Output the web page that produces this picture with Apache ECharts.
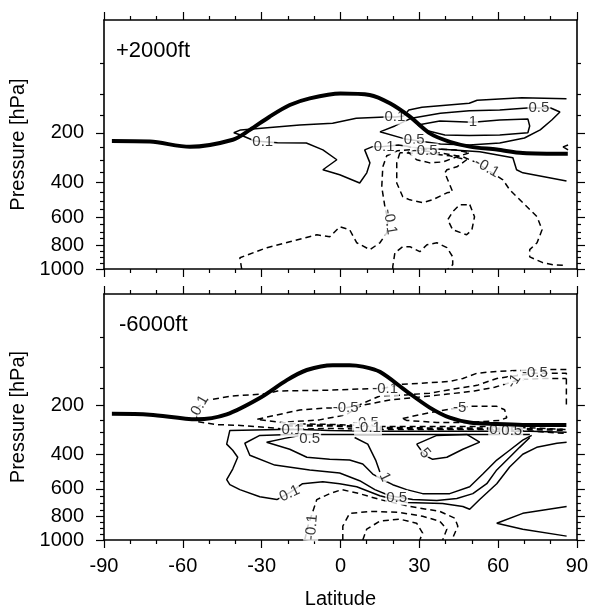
<!DOCTYPE html>
<html>
<head>
<meta charset="utf-8">
<title>Pressure-latitude contours</title>
<script src="https://cdn.jsdelivr.net/npm/echarts@6.0.0/dist/echarts.min.js"></script>
<style>
html, body { margin: 0; padding: 0; background: #fff; }
#chart { width: 591px; height: 610px; }
</style>
</head>
<body>
<div id="chart"></div>
<script>
// tick labels
var pMajor = [200, 400, 600, 800, 1000]
var pMinor = [50, 100, 150, 250, 300, 350, 450, 500, 550, 650, 700, 750, 850, 900, 950]
var panelTitles = ['+2000ft', '-6000ft']

// ---- top panel (+2000ft), points are [lat, hPa] ----
var topTrop = [[-87,227],[-72.5,229],[-57.3,248],[-41,223],[-34.5,191],[-27,153],[-19.3,124],[-11.7,109],[0,99],[11.1,102],[18.8,120],[26.4,153],[34,202],[41.6,230],[49.2,247],[59.5,258],[69.4,271],[86.5,274]]
var topPos01 = [[86,110],[69,108],[52,113],[49,120],[31,129],[26,136],[24,151],[21,154],[17,154],[6,157],[-3,171],[-15.5,176],[-38,191],[-40.6,200],[-38,207],[-32.6,227],[-24,233],[-13,234],[-6.7,259],[-1.4,298],[-6.7,341],[-0.3,364],[7.3,404],[10,355],[11.2,311],[9.2,259],[12,248],[15,248],[22,241],[30,252],[41.6,259],[53,266],[65.6,290],[67,341],[69.4,355],[86,394]]
var topPos05 = [[15,197],[20.7,179],[27,157],[38,144],[49,138],[60.6,136],[71,131],[80,131],[83.5,141],[80.4,162],[76,191],[70,217],[60.6,234],[49,241],[38,238],[30,227],[24.5,220],[15,197]]
var topPos1 = [[29.4,176],[37.8,165],[50.4,168],[60.6,162],[71.3,159],[72,179],[71.3,200],[60.6,207],[49,209],[39.7,207],[32,191],[29.4,176]]
var topPosEdge = [[86.6,241],[84.7,248],[86.6,259]]
var topNeg01 = [[-37.6,1000],[-38.3,902],[-28,819],[-19.3,773],[-9,721],[-4.1,736],[-0.3,664],[3.5,685],[6.2,781],[11.2,835],[15,781],[17.6,707],[18,617],[16.9,535],[15.7,424],[16.1,328],[17.6,282],[21.8,262],[26.4,259],[35,266],[46.6,286],[52,311],[55.7,341],[61.8,388],[64.4,439],[69.4,511],[74.8,597],[76.7,685],[74.8,781],[72,835],[72,894],[77,944],[81,962],[86,968]]
var topNegInner = [[22.6,270],[21.4,311],[21.4,404],[23.7,477],[26.4,494],[31.3,511],[35,494],[40.5,455],[42.7,450],[39.7,355],[40.5,341],[44.3,328],[48,298],[41.6,282],[34,274],[22.6,270]]
var topNeg05 = [[25.6,266],[29,298],[34,311],[39,307],[44.3,286],[49.2,270],[43.5,259],[34,255],[25.6,266]]
var topNegLoopA = [[49.2,522],[51,597],[50,685],[48,721],[42.7,685],[40.8,617],[42.7,565],[45.4,522],[49.2,522]]
var topNegLoopB = [[19.9,1000],[19.9,977],[20.7,860],[23.7,811],[26.4,811],[30.2,851],[32.9,796],[36.7,781],[40.5,819],[42.7,894],[42.7,962],[40.8,1000]]
// [text, lat, hPa, rotate]
var topLabels = [['0.1',-29.6,230,0],['0.1',20.7,154,0],['0.1',16.6,248,0],['0.5',28,224,0],['0.5',75.5,131,0],['1',50.4,168,0],['-0.5',32,263,0],['-0.1',18.8,630,-80],['-0.1',55.7,332,-30]]

// ---- bottom panel (-6000ft) ----
var botTrop = [[-87,228],[-72.6,231],[-54.7,248],[-43.3,230],[-30.7,177],[-20.4,129],[-12.8,106],[-2.9,96],[3.5,96],[8.5,99],[15,110],[25.2,158],[34,207],[41.6,242],[49.2,260],[59.5,266],[69.4,269],[86,269]]
var botNeg01 = [[86,105],[79.7,105],[68,107],[59.5,109],[52,113],[46.6,125],[41.6,132],[30,137],[23.7,139],[16,150],[13.8,150],[-5,155],[-24,157],[-28,165],[-41,171],[-50.5,183],[-54.7,208],[-54.7,256],[-47,268],[-38,271],[-28,279],[-19.3,287],[-4,283],[15,287],[34,287],[53,287],[68,291],[86,304]]
var botNeg05 = [[85.7,287],[68,279],[53,275],[34,275],[15,275],[-0.3,268],[-19.3,264],[-31.9,248],[-15.5,215],[-5.2,208],[2,208],[7.3,198],[15,171],[25,168],[34,163],[44.3,150],[52,142],[59.5,125],[65,120],[74,113],[80.4,113],[86,113],[86,150],[86,198]]
var botNeg1 = [[-20,258],[-8,250],[2,232],[8,200],[18.8,183],[30.2,174],[41.6,165],[51,157],[58.7,147],[62.5,139],[66,132],[70,127],[77.8,125],[86,125]]
var botNeg5 = [[23.7,245],[30.2,231],[37.8,218],[45.4,207],[49.2,203],[59.5,203],[62.5,214],[63.3,242],[60.6,252],[49,260],[36.7,260],[25.2,252],[23.7,245]]
var botNegBand = [[-20.4,271],[-4.1,271],[15,281],[34,283],[53,283],[68.2,285],[86.1,289]]
var botNegSfc1 = [[-13.6,1000],[-12.4,879],[-10.5,760],[-9,673],[-4.1,632],[0.5,605],[7.3,632],[15,673],[26.4,723],[37.8,760],[43.5,813],[44.7,879],[42.4,1000]]
var botNegSfc2 = [[0.9,1000],[0.9,879],[3.5,775],[12.3,760],[22.6,768],[31.3,798],[37.8,837],[40.5,904],[38.9,1000]]
var botNegSfc3 = [[8.5,1000],[10,904],[15,837],[22.6,821],[29,854],[31.3,938],[30.2,1000]]
var botPos01 = [[86.1,299],[72.1,295],[53,295],[34,295],[15,295],[-4.1,291],[-15.5,287],[-23.1,287],[-42.1,291],[-43.3,351],[-41,380],[-39.1,415],[-41,479],[-43.3,542],[-42.1,573],[-38.3,605],[-30.7,653],[-24.2,673],[-19.3,625],[-14.4,567],[-6.7,554],[-0.3,567],[6.2,586],[15,646],[25.2,694],[38.9,701],[46.6,723],[49.2,744],[53,673],[59.5,567],[64.4,468],[69.4,400],[74.7,366],[82.4,347],[86.1,342]]
var botPos05 = [[72.1,308],[53,308],[34,308],[15,308],[-4.1,308],[-19.3,308],[-30.7,312],[-36.4,347],[-34.5,405],[-25,457],[-11.7,484],[-0.3,502],[7.3,548],[13.1,605],[18.8,646],[27.5,673],[36.7,680],[44.3,666],[50.4,632],[55.7,567],[59.5,484],[64.4,415],[68.2,366],[72.1,321]]
var botPos1 = [[-15.5,312],[-21.2,325],[-28.1,342],[-19.3,375],[-12.8,415],[-4.1,426],[3.5,430],[8.5,451],[12.3,508],[16.1,542],[19.9,573],[25.2,605],[31.3,632],[41.6,632],[49.2,586],[54.2,508],[59.5,430],[64.4,380],[69.4,333],[72.8,312]]
var botPos1b = [[5.4,321],[10.4,351],[13.4,430],[15,496]]
var botPos5 = [[29,351],[36.7,312],[48.1,308],[53,342],[46.6,375],[40.5,415],[35.1,426],[32.1,405],[29,351]]
var botPosRight = [[86.1,723],[69.4,775],[59.5,854],[69.4,904],[86.1,965]]
var botLabels = [['0.1',-53.5,200,60],['-0.1',17,150,0],['-0.5',2,208,0],['-0.5',74,113,0],['-1',66,132,55],['-5',45.4,207,0],
  ['0.1',-18.5,287,0],['0.5',-11.7,325,0],['-0.5',9.7,262,0],['-0.1',10.5,281,0],['0.1',60.6,287,0],['0.5',65.2,293,0],
  ['5',32.1,395,-50],['1',16.9,525,-65],['0.5',21.4,660,0],['0.1',-19.3,632,25],['-0.1',-10.9,888,85]]

var K = 0.35
var P_TOP = 12
var FONT = '"Liberation Sans", Arial, Helvetica, sans-serif'
function f (p) { return Math.pow(p, K) }

function xAxes (g) {
  var base = {
    gridIndex: g, type: 'value', min: -90, max: 90, interval: 30,
    splitLine: { show: false },
    axisLine: { show: true, onZero: false, lineStyle: { color: '#000', width: 1.6 } },
    axisTick: { show: true, length: 8, lineStyle: { color: '#000', width: 1.2 } },
    minorTick: { show: true, splitNumber: 3, length: 4, lineStyle: { color: '#000', width: 1.2 } }
  }
  var bottom = Object.assign({}, base, { position: 'bottom' })
  if (g === 1) {
    bottom.axisLabel = { show: true, fontSize: 20, margin: 16, color: '#000', fontFamily: FONT }
    bottom.name = 'Latitude'
    bottom.nameLocation = 'middle'
    bottom.nameGap = 49
    bottom.nameTextStyle = { fontSize: 20, color: '#000', fontFamily: FONT }
  } else {
    bottom.axisLabel = { show: false }
  }
  var top = Object.assign({}, base, { position: 'top', axisLabel: { show: false } })
  return [bottom, top]
}

function yAxes (g) {
  var major = pMajor.map(f)
  var minor = pMinor.map(f)
  function ax (pos, vals, len, withLine, withLabel) {
    var a = {
      gridIndex: g, type: 'value', inverse: true, position: pos,
      min: f(P_TOP), max: f(1000),
      splitLine: { show: false },
      axisLine: { show: withLine, onZero: false, lineStyle: { color: '#000', width: 1.6 } },
      axisTick: { show: true, length: len, customValues: vals, lineStyle: { color: '#000', width: 1.2 } },
      axisLabel: { show: withLabel, customValues: vals, fontSize: 20, margin: 20, color: '#000', fontFamily: FONT,
        formatter: function (v) { return String(Math.round(Math.pow(v, 1 / K))) } }
    }
    if (withLabel) {
      a.name = 'Pressure [hPa]'
      a.nameLocation = 'middle'
      a.nameGap = 62
      a.nameTextStyle = { fontSize: 20, color: '#000', fontFamily: FONT }
    }
    return a
  }
  return [ax('left', major, 8, true, true), ax('left', minor, 4, false, false),
    ax('right', major, 8, true, false), ax('right', minor, 4, false, false)]
}

function contour (data, g, dashed, width) {
  return {
    type: 'line', xAxisIndex: g * 2, yAxisIndex: g * 4,
    data: data.map(function (d) { return [d[0], f(d[1])] }),
    symbol: 'none', silent: true, z: 2,
    lineStyle: { color: '#000', width: width || 1.5, type: dashed ? [6, 4] : 'solid' }
  }
}

function trop (data, g) {
  var s = contour(data, g, false, 4)
  s.smooth = 0.3
  s.z = 5
  return s
}

function labels (list, g) {
  return {
    type: 'scatter', xAxisIndex: g * 2, yAxisIndex: g * 4, symbolSize: 1, silent: true, z: 3,
    itemStyle: { color: 'rgba(0,0,0,0)' },
    data: list.map(function (l) {
      return { name: l[0], value: [l[1], f(l[2])], label: { rotate: l[3] } }
    }),
    label: { show: true, position: 'inside', formatter: '{b}', fontSize: 15, color: '#000',
      fontFamily: FONT, backgroundColor: '#fff', padding: [0, 1] }
  }
}

var series = [
  contour(topPos01, 0, false), contour(topPos05, 0, false), contour(topPos1, 0, false), contour(topPosEdge, 0, false),
  contour(topNeg01, 0, true), contour(topNegInner, 0, true), contour(topNeg05, 0, true),
  contour(topNegLoopA, 0, true), contour(topNegLoopB, 0, true),
  labels(topLabels, 0), trop(topTrop, 0),
  contour(botNeg01, 1, true), contour(botNeg05, 1, true), contour(botNeg1, 1, true), contour(botNeg5, 1, true),
  contour(botNegBand, 1, true, 2.5),
  contour(botNegSfc1, 1, true), contour(botNegSfc2, 1, true), contour(botNegSfc3, 1, true),
  contour(botPos01, 1, false), contour(botPos05, 1, false), contour(botPos1, 1, false), contour(botPos1b, 1, false),
  contour(botPos5, 1, false), contour(botPosRight, 1, false),
  labels(botLabels, 1), trop(botTrop, 1)
]

var chart = echarts.init(document.getElementById('chart'))
chart.setOption({
  animation: false,
  backgroundColor: '#fff',
  title: [
    { text: panelTitles[0], left: 116, top: 40, padding: 0, textStyle: { fontSize: 22, fontWeight: 'normal', color: '#000', fontFamily: FONT } },
    { text: panelTitles[1], left: 119, top: 314, padding: 0, textStyle: { fontSize: 22, fontWeight: 'normal', color: '#000', fontFamily: FONT } }
  ],
  grid: [
    { left: 104, top: 20, width: 473, height: 249 },
    { left: 104, top: 294, width: 473, height: 250 }
  ],
  xAxis: xAxes(0).concat(xAxes(1)),
  yAxis: yAxes(0).concat(yAxes(1)),
  series: series
})
</script>
</body>
</html>
